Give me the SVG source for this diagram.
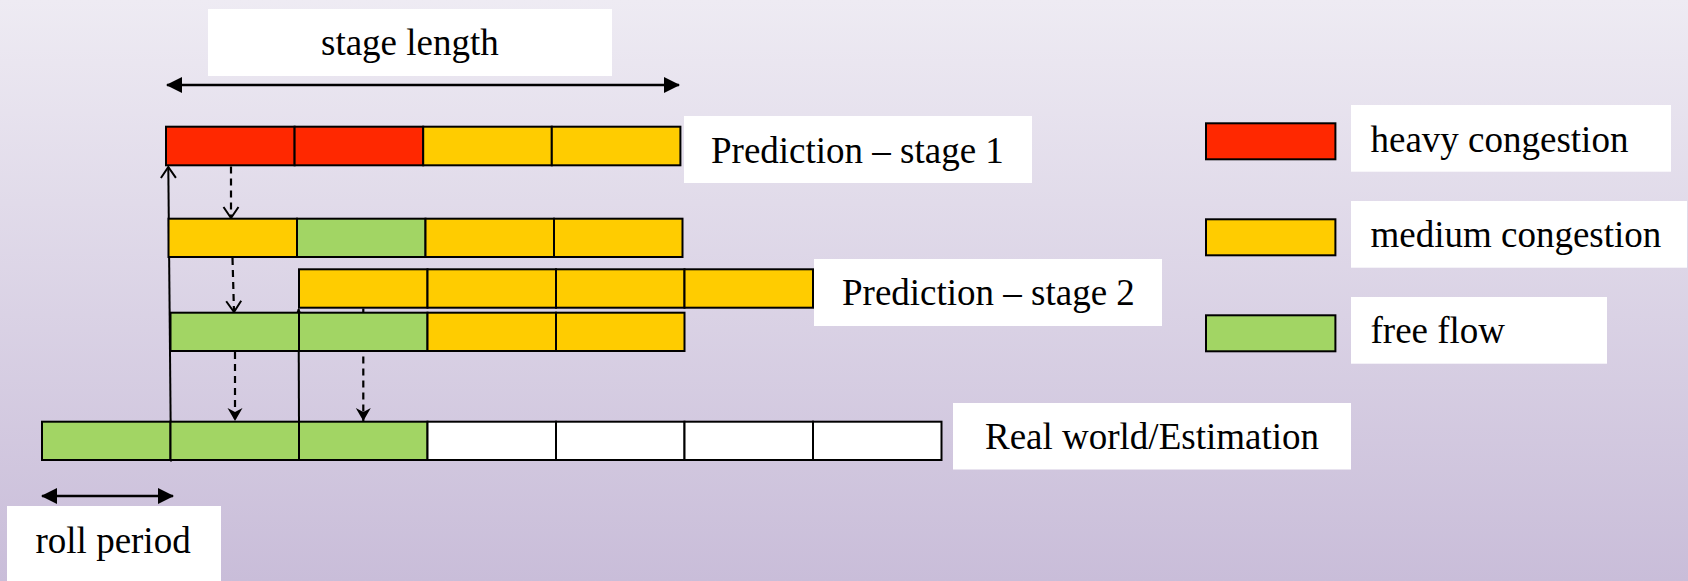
<svg xmlns="http://www.w3.org/2000/svg" width="1688" height="581" viewBox="0 0 1688 581">
  <defs>
    <linearGradient id="bg" x1="0" y1="0" x2="0" y2="1">
      <stop offset="0" stop-color="#EEEBF3"/>
      <stop offset="1" stop-color="#C9BDD9"/>
    </linearGradient>
    <marker id="tri" markerUnits="userSpaceOnUse" markerWidth="18" markerHeight="17" refX="15" refY="8" orient="auto-start-reverse" overflow="visible">
      <path d="M0,0 L16,8 L0,16 z" fill="#000"/>
    </marker>
    <marker id="vopen" markerUnits="userSpaceOnUse" markerWidth="14" markerHeight="17" refX="11" refY="7.5" orient="auto" overflow="visible">
      <path d="M0,0 L11,7.5 L0,15" fill="none" stroke="#000" stroke-width="2"/>
    </marker>
    <marker id="stealth" markerUnits="userSpaceOnUse" markerWidth="14" markerHeight="17" refX="13" refY="7.5" orient="auto" overflow="visible">
      <path d="M0,0 L13,7.5 L0,15 L4,7.5 z" fill="#000"/>
    </marker>
    <marker id="small" markerUnits="userSpaceOnUse" markerWidth="8" markerHeight="8" refX="6" refY="3.5" orient="auto" overflow="visible">
      <path d="M0,0 L7,3.5 L0,7 z" fill="#000"/>
    </marker>
  </defs>
  <style>
    .lbl { fill: #FFFFFF; stroke: none; }
    .txt { font-family: "Liberation Serif", "Times New Roman", serif; font-size: 37px; fill: #000; }
    .cell { stroke: #000; stroke-width: 2; }
    .red { fill: #FF2800; }
    .yel { fill: #FFCC00; }
    .grn { fill: #A2D564; }
    .wht { fill: #FFFFFF; }
    .solid { stroke: #000; stroke-width: 2; fill: none; }
    .dash { stroke: #000; stroke-width: 2.2; fill: none; stroke-dasharray: 7 5; }
    .dim { stroke: #000; stroke-width: 2.5; fill: none; }
  </style>

  <rect x="0" y="0" width="1688" height="581" fill="url(#bg)"/>

  <!-- connectors -->
  <g id="connectors">
    <line class="dim" x1="167" y1="85" x2="679" y2="85" marker-start="url(#tri)" marker-end="url(#tri)"/>
    <line class="dim" x1="42" y1="496" x2="173" y2="496" marker-start="url(#tri)" marker-end="url(#tri)"/>
    <line class="solid" x1="171" y1="461.5" x2="168.3" y2="167" marker-end="url(#vopen)"/>
    <line class="solid" x1="299" y1="421.7" x2="298.6" y2="309" marker-end="url(#small)"/>
    <line class="dash" x1="231" y1="166.5" x2="231" y2="218" marker-end="url(#vopen)"/>
    <line class="dash" x1="232.5" y1="258" x2="234" y2="312" marker-end="url(#vopen)"/>
    <line class="dash" x1="235" y1="352" x2="235" y2="421" marker-end="url(#stealth)"/>
    <line class="dash" x1="363.3" y1="308.5" x2="363.3" y2="421" marker-end="url(#stealth)"/>
  </g>

  <!-- label: stage length -->
  <g id="stage-length">
    <rect class="lbl" x="208" y="9" width="404" height="67"/>
    <text class="txt" x="321" y="55">stage length</text>
  </g>

  <!-- row 1: prediction stage 1 -->
  <g id="row-stage1">
    <rect class="cell red" x="166" y="126.7" width="128.6" height="38.6"/>
    <rect class="cell red" x="294.6" y="126.7" width="128.6" height="38.6"/>
    <rect class="cell yel" x="423.2" y="126.7" width="128.6" height="38.6"/>
    <rect class="cell yel" x="551.8" y="126.7" width="128.6" height="38.6"/>
  </g>
  <g id="label-stage1">
    <rect class="lbl" x="684" y="116" width="348" height="67"/>
    <text class="txt" x="711" y="163">Prediction – stage 1</text>
  </g>

  <!-- row 2 -->
  <g id="row-2">
    <rect class="cell yel" x="168.5" y="218.7" width="128.5" height="38.3"/>
    <rect class="cell grn" x="297" y="218.7" width="128.5" height="38.3"/>
    <rect class="cell yel" x="425.5" y="218.7" width="128.5" height="38.3"/>
    <rect class="cell yel" x="554" y="218.7" width="128.5" height="38.3"/>
  </g>

  <!-- row 3: prediction stage 2 -->
  <g id="row-stage2">
    <rect class="cell yel" x="299" y="269.3" width="128.5" height="38.4"/>
    <rect class="cell yel" x="427.5" y="269.3" width="128.5" height="38.4"/>
    <rect class="cell yel" x="556" y="269.3" width="128.5" height="38.4"/>
    <rect class="cell yel" x="684.5" y="269.3" width="128.5" height="38.4"/>
  </g>
  <g id="label-stage2">
    <rect class="lbl" x="814" y="259" width="348" height="67"/>
    <text class="txt" x="842" y="305">Prediction – stage 2</text>
  </g>

  <!-- row 4 -->
  <g id="row-4">
    <rect class="cell grn" x="170.5" y="312.7" width="128.5" height="38.3"/>
    <rect class="cell grn" x="299" y="312.7" width="128.5" height="38.3"/>
    <rect class="cell yel" x="427.5" y="312.7" width="128.5" height="38.3"/>
    <rect class="cell yel" x="556" y="312.7" width="128.5" height="38.3"/>
  </g>

  <!-- row 5: real world / estimation -->
  <g id="row-real">
    <rect class="cell grn" x="42" y="421.7" width="128.5" height="38.3"/>
    <rect class="cell grn" x="170.5" y="421.7" width="128.5" height="38.3"/>
    <rect class="cell grn" x="299" y="421.7" width="128.5" height="38.3"/>
    <rect class="cell wht" x="427.5" y="421.7" width="128.5" height="38.3"/>
    <rect class="cell wht" x="556" y="421.7" width="128.5" height="38.3"/>
    <rect class="cell wht" x="684.5" y="421.7" width="128.5" height="38.3"/>
    <rect class="cell wht" x="813" y="421.7" width="128.5" height="38.3"/>
  </g>
  <g id="label-real">
    <rect class="lbl" x="953" y="403" width="398" height="66.5"/>
    <text class="txt" x="985" y="449">Real world/Estimation</text>
  </g>

  <!-- roll period -->
  <g id="roll-period">
    <rect class="lbl" x="7" y="506" width="214" height="75"/>
    <text class="txt" x="35.5" y="553">roll period</text>
  </g>

  <!-- legend -->
  <g id="legend-heavy">
    <rect class="cell red" x="1206" y="123.3" width="129.4" height="36"/>
    <rect class="lbl" x="1351" y="105" width="320" height="66.7"/>
    <text class="txt" x="1370.5" y="151.5">heavy congestion</text>
  </g>
  <g id="legend-medium">
    <rect class="cell yel" x="1206" y="219.3" width="129.4" height="36"/>
    <rect class="lbl" x="1351" y="201" width="336" height="66.7"/>
    <text class="txt" x="1370.5" y="247">medium congestion</text>
  </g>
  <g id="legend-free">
    <rect class="cell grn" x="1206" y="315.3" width="129.4" height="36"/>
    <rect class="lbl" x="1351" y="297" width="256" height="66.7"/>
    <text class="txt" x="1370.5" y="343">free flow</text>
  </g>
</svg>
